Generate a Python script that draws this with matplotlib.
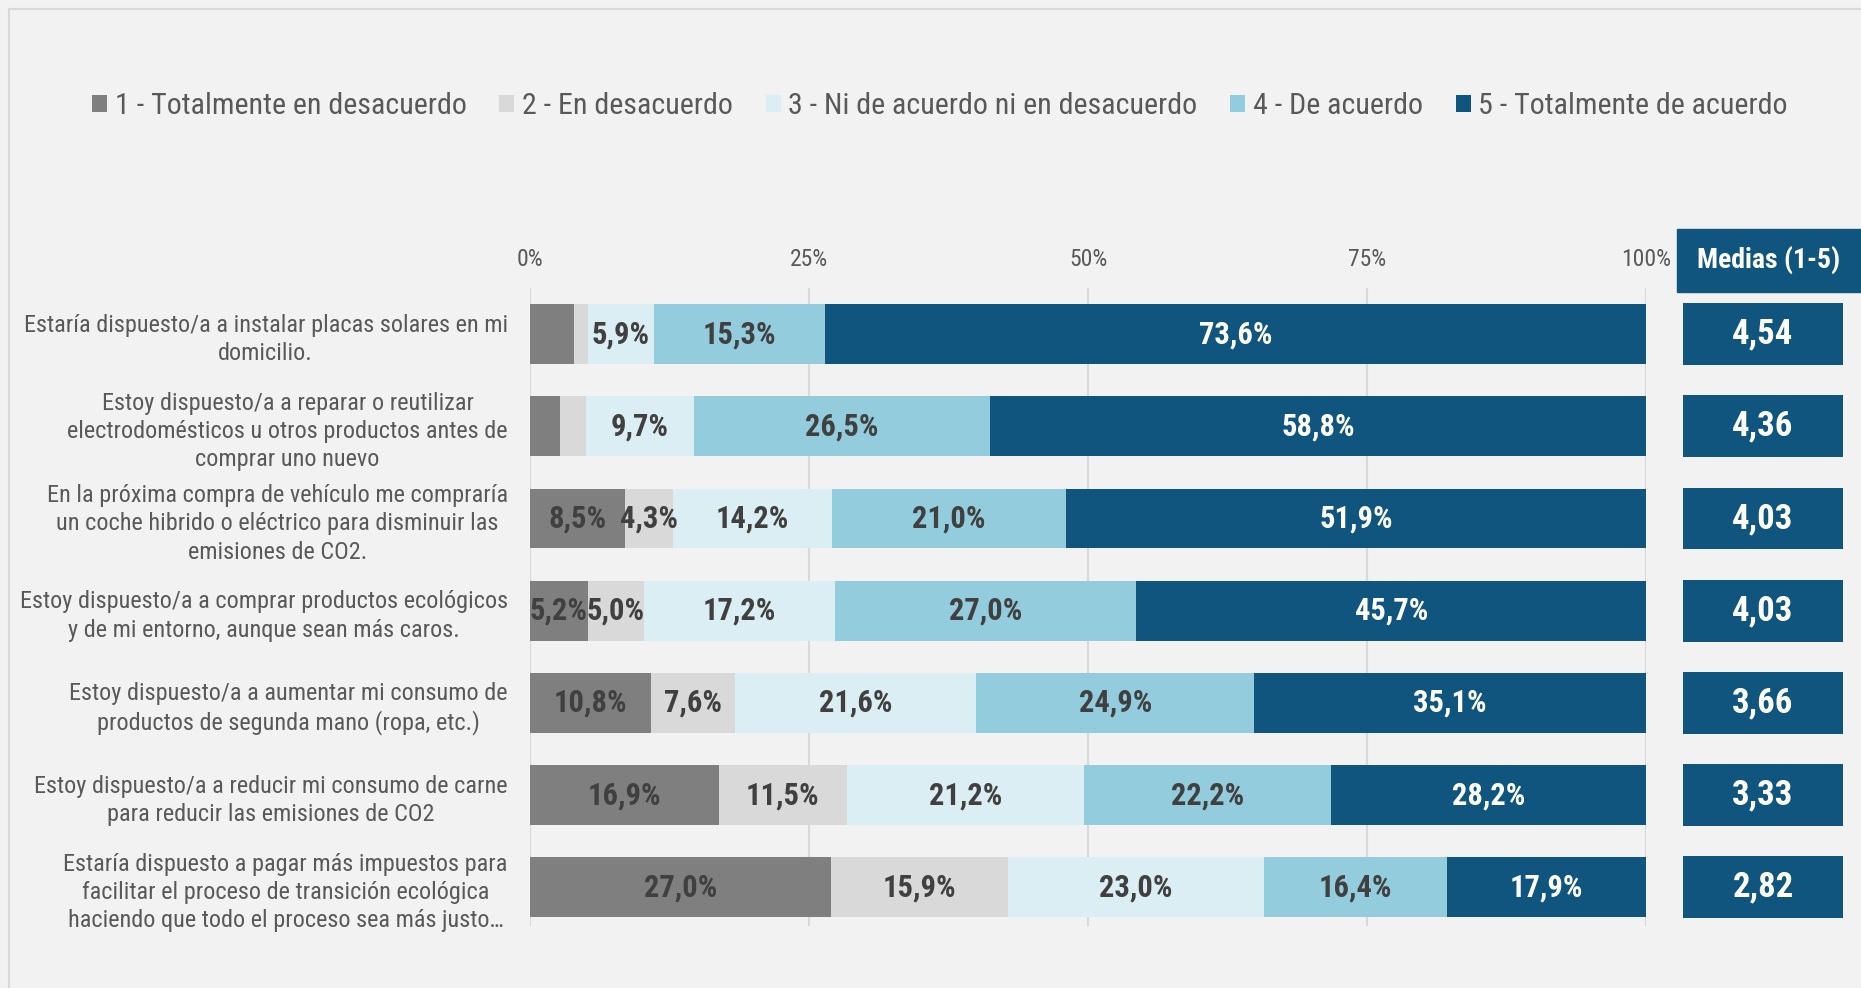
import numpy as np
import matplotlib
matplotlib.use("Agg")
import matplotlib.pyplot as plt
from matplotlib import font_manager
from matplotlib.patches import Rectangle

# pick a narrow font if one is installed
names = {f.name for f in font_manager.fontManager.ttflist}
narrow = [n for n in ["Liberation Sans Narrow", "Roboto Condensed", "Open Sans Condensed", "DejaVu Sans Condensed"] if n in names]
plt.rcParams["font.family"] = narrow[:1] + ["Liberation Sans", "DejaVu Sans"]

categories = [
    "Estaría dispuesto/a a instalar placas solares en mi\ndomicilio.",
    "Estoy dispuesto/a a reparar o reutilizar\nelectrodomésticos u otros productos antes de\ncomprar uno nuevo",
    "En la próxima compra de vehículo me compraría\nun coche hibrido o eléctrico para disminuir las\nemisiones de CO2.",
    "Estoy dispuesto/a a comprar productos ecológicos\ny de mi entorno, aunque sean más caros.",
    "Estoy dispuesto/a a aumentar mi consumo de\nproductos de segunda mano (ropa, etc.)",
    "Estoy dispuesto/a a reducir mi consumo de carne\npara reducir las emisiones de CO2",
    "Estaría dispuesto a pagar más impuestos para\nfacilitar el proceso de transición ecológica\nhaciendo que todo el proceso sea más justo…",
]
series_names = [
    "1 - Totalmente en desacuerdo",
    "2 - En desacuerdo",
    "3 - Ni de acuerdo ni en desacuerdo",
    "4 - De acuerdo",
    "5 - Totalmente de acuerdo",
]
totalmente_desacuerdo = [3.9, 2.7, 8.5, 5.2, 10.8, 16.9, 27.0]
desacuerdo = [1.3, 2.3, 4.3, 5.0, 7.6, 11.5, 15.9]
ni_ni = [5.9, 9.7, 14.2, 17.2, 21.6, 21.2, 23.0]
de_acuerdo = [15.3, 26.5, 21.0, 27.0, 24.9, 22.2, 16.4]
totalmente_acuerdo = [73.6, 58.8, 51.9, 45.7, 35.1, 28.2, 17.9]
medias = [4.54, 4.36, 4.03, 4.03, 3.66, 3.33, 2.82]
x_ticks = [0, 0.25, 0.5, 0.75, 1.0]
x_tick_labels = ["0%", "25%", "50%", "75%", "100%"]

colors = ["#7f7f7f", "#d9d9d9", "#dbeef4", "#93cddd", "#0f557e"]
label_colors = ["#404040", "#404040", "#404040", "#404040", "white"]
text_grey = "#595959"

W, H = 1861, 988
fig = plt.figure(figsize=(W / 100, H / 100), dpi=100, facecolor="#f2f2f2")

# outer frame of the chart area
fig.add_artist(Rectangle((9 / W, -0.5), 2, 1.5 - 9 / H, transform=fig.transFigure,
                         fill=False, ec="#d9d9d9", lw=1.5))

ax_top, ax_bot = 288, 926
ax = fig.add_axes([530 / W, (H - ax_bot) / H, 1116 / W, (ax_bot - ax_top) / H])
ax.set_facecolor("none")

data = np.array([totalmente_desacuerdo, desacuerdo, ni_ni, de_acuerdo, totalmente_acuerdo])
shares = data / data.sum(axis=0)
y = np.arange(len(categories))
left = np.zeros(len(categories))
bar_h = 0.65
for i, name in enumerate(series_names):
    bars = ax.barh(y, shares[i], left=left, height=bar_h, color=colors[i], label=name, zorder=2)
    for j, b in enumerate(bars):
        v = data[i, j]
        if v >= 4.0:
            ax.text(left[j] + shares[i, j] / 2, y[j], f"{v:.1f}".replace(".", ",") + "%",
                    ha="center", va="center", fontsize=22, fontweight="bold",
                    color=label_colors[i], zorder=3)
    left += shares[i]

ax.set_xlim(0, 1)
ax.set_ylim(6.42, -0.50)
ax.xaxis.tick_top()
ax.set_xticks(x_ticks)
ax.set_xticklabels(x_tick_labels)
ax.tick_params(axis="x", length=0, pad=12, labelsize=17, labelcolor=text_grey)
ax.grid(axis="x", color="#d9d9d9", lw=1.5, zorder=0)
ax.set_yticks(y)
ax.set_yticklabels(categories)
ax.tick_params(axis="y", length=0, pad=16, labelsize=17.5, labelcolor=text_grey)
for t in ax.get_yticklabels():
    t.set_multialignment("center")
    t.set_linespacing(1.3)
for s in ax.spines.values():
    s.set_visible(False)

# column of means
ax2 = fig.add_axes([1683 / W, (H - ax_bot) / H, 160 / W, (ax_bot - ax_top) / H], sharey=ax)
ax2.set_facecolor("none")
ax2.barh(y, [1] * len(medias), height=0.67, color="#0f557e")
for j, m in enumerate(medias):
    ax2.text(0.5, y[j], f"{m:.2f}".replace(".", ","), ha="center", va="center",
             fontsize=25, fontweight="bold", color="white")
ax2.set_xlim(0, 1)
ax2.axis("off")

fig.add_artist(Rectangle((1677 / W, (H - 292) / H), (W - 1677) / W, 63 / H,
                         transform=fig.transFigure, color="#0f557e"))
fig.text((1677 + W) / 2 / W, (H - 260) / H, "Medias (1-5)", ha="center", va="center",
         fontsize=20, fontweight="bold", color="white")

fig.legend(loc="center", bbox_to_anchor=(940 / W, (H - 106) / H), ncol=5, frameon=False,
           fontsize=21.6, labelcolor=text_grey, handlelength=0.5, handleheight=0.5,
           handletextpad=0.25, columnspacing=1.1)

fig.savefig("out.png", dpi=100, facecolor=fig.get_facecolor())
